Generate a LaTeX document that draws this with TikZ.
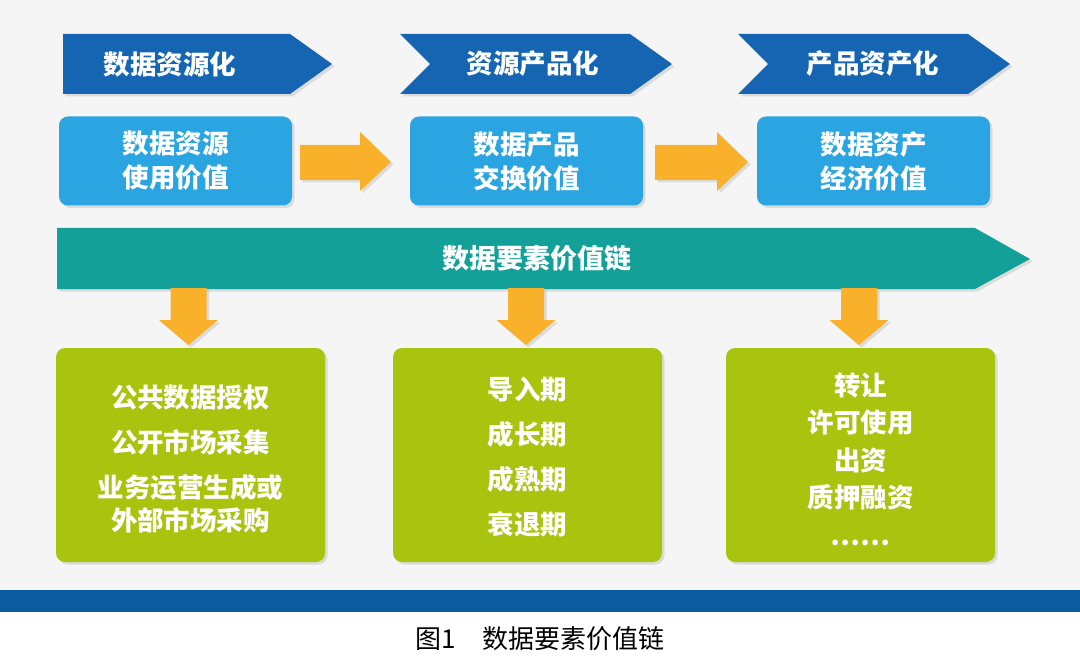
\documentclass[tikz,border=0pt]{standalone}
\usepackage{fontspec}
\setmainfont{Noto Sans CJK SC}
\usetikzlibrary{shadows}
\definecolor{bgc}{HTML}{F5F5F5}
\definecolor{barblue}{HTML}{0B5BA1}
\definecolor{chevc}{HTML}{1565B3}
\definecolor{lblue}{HTML}{2AA5E2}
\definecolor{orng}{HTML}{F9B12B}
\definecolor{teal}{HTML}{12A098}
\definecolor{grn}{HTML}{A8C40E}
\tikzset{
  shad/.style={drop shadow={opacity=0.22,shadow xshift=2.5pt,shadow yshift=-2.5pt}},
  chevtext/.style={text=white,font=\fontsize{26.5}{30}\selectfont\bfseries},
  bluebox/.style={fill=lblue,rounded corners=9pt,minimum width=233pt,minimum height=89pt,
    text=white,align=center,font=\fontsize{26.5}{34}\selectfont\bfseries,shad},
  greenbox/.style={fill=grn,rounded corners=9pt,minimum width=269pt,minimum height=214pt,shad},
  greentext/.style={text=white,align=center,font=\fontsize{26.5}{33}\selectfont\bfseries},
  blockarrow/.style={fill=orng,shad},
}
\newcommand\myrightarrow[3]{% body start x, head start x, tip x
  \fill[blockarrow] (#1,145) -- (#2,145) -- (#2,132) -- (#3,162) -- (#2,191) -- (#2,180) -- (#1,180) -- cycle;}
\newcommand\mydownarrow[1]{% centre x
  \fill[blockarrow] (#1-18,288) -- (#1+18,288) -- (#1+18,320) -- (#1+29.5,320) -- (#1,345)
     -- (#1-29.5,320) -- (#1-18,320) -- cycle;}
\begin{document}
\begin{tikzpicture}[x=1pt,y=-1pt]
\fill[bgc] (0,0) rectangle (1080,590);
\fill[white] (0,612) rectangle (1080,658);
\fill[barblue] (0,590) rectangle (1080,612);
\useasboundingbox (0,0) rectangle (1080,658);

% chevrons
\fill[chevc,shad] (63,34) -- (290,34) -- (332,64) -- (290,94) -- (63,94) -- cycle;
\node[chevtext] (c1) at (170,64) {数据资源化};
\fill[chevc,shad] (400,34) -- (630,34) -- (672,64) -- (630,94) -- (400,94) -- (430,64) -- cycle;
\node[chevtext] (c2) at (533,64) {资源产品化};
\fill[chevc,shad] (738,34) -- (968,34) -- (1010,64) -- (968,94) -- (738,94) -- (768,64) -- cycle;
\node[chevtext] (c3) at (873,64) {产品资产化};

% light blue boxes
\node[bluebox] (b1) at (175.5,161) {数据资源\\使用价值};
\node[bluebox] (b2) at (526.5,161) {数据产品\\交换价值};
\node[bluebox] (b3) at (873.5,161) {数据资产\\经济价值};

% orange right arrows
\myrightarrow{300}{360}{391}
\myrightarrow{655}{717}{748}

% teal band
\fill[teal,shad] (57,228) -- (975,228) -- (1030,259) -- (975,289) -- (57,289) -- cycle;
\node[text=white,font=\fontsize{27}{30}\selectfont\bfseries] (chain) at (537,258) {数据要素价值链};

% down arrows
\mydownarrow{188.5}
\mydownarrow{526}
\mydownarrow{859}

% green boxes
\node[greenbox] (g1) at (190.5,455) {};
\node[greenbox] (g2) at (527.5,455) {};
\node[greenbox] (g3) at (860.5,455) {};

\node[greentext] (t1) at (190.5,459) {公共数据授权\\[12pt]公开市场采集\\[12pt]业务运营生成或\\外部市场采购};
\node[greentext] (t2) at (527.5,457) {导入期\\[12pt]成长期\\[12pt]成熟期\\[12pt]衰退期};
\node[greentext] (t3) at (860.5,459) {转让\\[4.5pt]许可使用\\[4.5pt]出资\\[4.5pt]质押融资\\[4.5pt]……};

% caption
\node[font=\fontsize{26}{30}\selectfont,text=black] (cap) at (540,639) {图1　数据要素价值链};
\end{tikzpicture}
\end{document}
